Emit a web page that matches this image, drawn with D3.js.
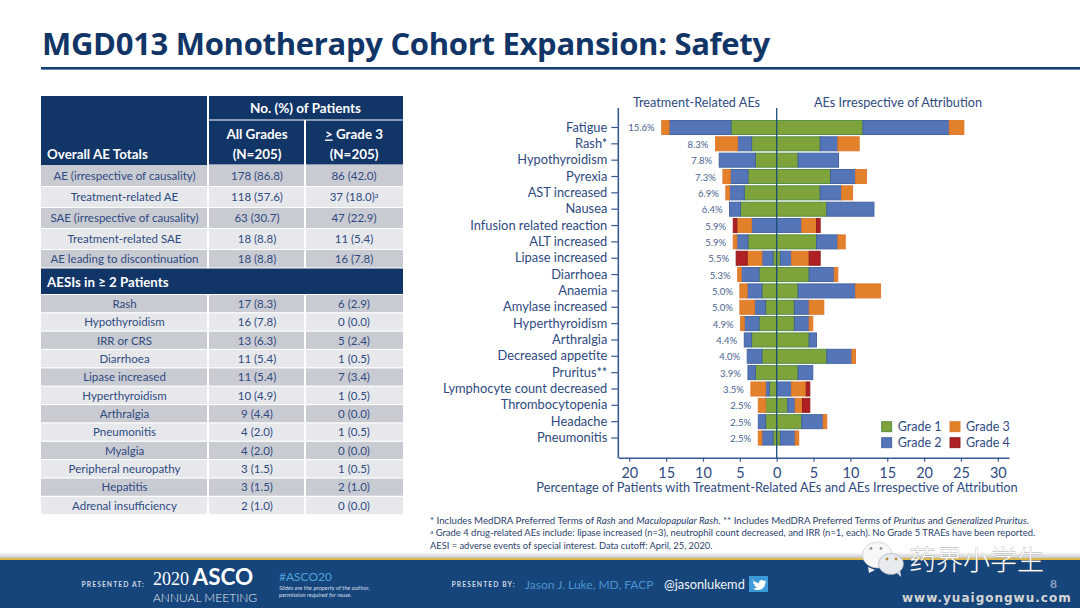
<!DOCTYPE html>
<html>
<head>
<meta charset="utf-8">
<script src="https://cdn.jsdelivr.net/npm/d3@7"></script>
<style>
  html, body { margin: 0; padding: 0; background: #fff; }
  svg { display: block; }
  text { font-family: Lato, sans-serif; }
</style>
</head>
<body>
<div id="slide"></div>
<script>
// Chart data
const categories = ["Fatigue", "Rash*", "Hypothyroidism", "Pyrexia", "AST increased", "Nausea",
  "Infusion related reaction", "ALT increased", "Lipase increased", "Diarrhoea", "Anaemia",
  "Amylase increased", "Hyperthyroidism", "Arthralgia", "Decreased appetite", "Pruritus**",
  "Lymphocyte count decreased", "Thrombocytopenia", "Headache", "Pneumonitis"];
const trPercent = ["15.6%", "8.3%", "7.8%", "7.3%", "6.9%", "6.4%", "5.9%", "5.9%", "5.5%", "5.3%",
  "5.0%", "5.0%", "4.9%", "4.4%", "4.0%", "3.9%", "3.5%", "2.5%", "2.5%", "2.5%"];

// Treatment-related AEs (left side)
const trGrade1 = [6.2, 3.4, 2.9, 3.9, 4.4, 4.9, 0, 3.9, 0.5, 2.4, 2.0, 1.5, 2.4, 3.4, 2.0, 2.9, 1.0, 1.5, 1.5, 0.5];
const trGrade2 = [8.4, 1.9, 4.9, 2.4, 2.0, 1.5, 3.4, 1.5, 1.5, 2.4, 2.0, 1.5, 2.0, 1.0, 2.0, 1.0, 0.5, 0, 1.0, 1.5];
const trGrade3 = [1.0, 3.0, 0, 1.0, 0.5, 0, 2.0, 0.5, 2.0, 0.5, 1.0, 2.0, 0.5, 0, 0, 0, 2.0, 1.0, 0, 0.5];
const trGrade4 = [0, 0, 0, 0, 0, 0, 0.5, 0, 1.5, 0, 0, 0, 0, 0, 0, 0, 0, 0, 0, 0];

// AEs irrespective of attribution (right side)
const allGrade1 = [11.7, 5.9, 2.9, 7.3, 5.9, 6.8, 0, 5.4, 0.5, 4.4, 2.9, 2.4, 2.4, 4.4, 6.8, 2.9, 0, 1.5, 3.4, 0.5];
const allGrade2 = [11.7, 2.4, 5.5, 3.4, 2.9, 6.4, 3.4, 2.9, 1.5, 3.4, 7.8, 2.0, 2.0, 1.0, 3.4, 2.0, 2.0, 1.0, 2.9, 2.0];
const allGrade3 = [2.0, 2.9, 0, 1.5, 1.5, 0, 2.0, 1.0, 2.4, 0.5, 3.4, 2.0, 0.5, 0, 0.5, 0, 2.0, 1.0, 0.5, 0.5];
const allGrade4 = [0, 0, 0, 0, 0, 0, 0.5, 0, 1.5, 0, 0, 0, 0, 0, 0, 0, 0.5, 1.0, 0, 0];

const gradeNames = ["Grade 1", "Grade 2", "Grade 3", "Grade 4"];
const xTicks = [-20, -15, -10, -5, 0, 5, 10, 15, 20, 25, 30];

// Table data
const totalLabels = ["AE (irrespective of causality)", "Treatment-related AE", "SAE (irrespective of causality)",
  "Treatment-related SAE", "AE leading to discontinuation"];
const totalAll = ["178 (86.8)", "118 (57.6)", "63 (30.7)", "18 (8.8)", "18 (8.8)"];
const totalG3 = ["86 (42.0)", "37 (18.0)", "47 (22.9)", "11 (5.4)", "16 (7.8)"];
const aesiLabels = ["Rash", "Hypothyroidism", "IRR or CRS", "Diarrhoea", "Lipase increased", "Hyperthyroidism",
  "Arthralgia", "Pneumonitis", "Myalgia", "Peripheral neuropathy", "Hepatitis", "Adrenal insufficiency"];
const aesiAll = ["17 (8.3)", "16 (7.8)", "13 (6.3)", "11 (5.4)", "11 (5.4)", "10 (4.9)", "9 (4.4)", "4 (2.0)",
  "4 (2.0)", "3 (1.5)", "3 (1.5)", "2 (1.0)"];
const aesiG3 = ["6 (2.9)", "0 (0.0)", "5 (2.4)", "1 (0.5)", "7 (3.4)", "1 (0.5)", "0 (0.0)", "1 (0.5)",
  "0 (0.0)", "1 (0.5)", "2 (1.0)", "0 (0.0)"];

const navy = "#123567";
const textBlue = "#2f4a80";
const fills = ["#7fa33b", "#5476b9", "#e3802a", "#ae2024"];
const strokes = ["#4e8a3e", "#3f5f9e", "#e0762a", "#8f1a1e"];

const svg = d3.select("#slide").append("svg")
  .attr("width", 1080)
  .attr("height", 608)
  .attr("viewBox", "0 0 1080 608");

// Title and rule
svg.append("text")
  .attr("x", 42).attr("y", 55)
  .attr("fill", navy)
  .style("font-family", "'Open Sans'")
  .style("font-weight", 700)
  .style("font-size", "31px")
  .style("letter-spacing", "-0.3px")
  .text("MGD013 Monotherapy Cohort Expansion: Safety");
svg.append("rect").attr("x", 41).attr("y", 67).attr("width", 1039).attr("height", 2.6).attr("fill", "#123f74");

// ---- Table ----
const table = svg.append("g");

function cell(x, y, w, h, fill) {
  table.append("rect").attr("x", x).attr("y", y).attr("width", w).attr("height", h).attr("fill", fill);
}
function cellText(x, y, str, size, color, weight) {
  return table.append("text")
    .attr("x", x).attr("y", y)
    .attr("text-anchor", "middle")
    .attr("fill", color)
    .style("font-size", size + "px")
    .style("font-weight", weight || 400)
    .text(str);
}

cell(41, 96, 166, 69, navy);
cell(209, 96, 194, 23.5, navy);
cell(209, 120.5, 95, 44, navy);
cell(306, 120.5, 97, 44, navy);
cellText(305.5, 113, "No. (%) of Patients", 13.5, "#fff", 700);
cellText(257, 138.5, "All Grades", 13.4, "#fff", 700);
cellText(257, 159, "(N=205)", 13.4, "#fff", 700);
const g3Head = cellText(354, 138.5, "", 13.4, "#fff", 700);
g3Head.append("tspan").style("text-decoration", "underline").text(">");
g3Head.append("tspan").text(" Grade 3");
cellText(354, 159, "(N=205)", 13.4, "#fff", 700);
table.append("text").attr("x", 47).attr("y", 159).attr("fill", "#fff")
  .style("font-size", "13.4px").style("font-weight", 700).text("Overall AE Totals");

const totalTops = [165, 187, 208, 229, 250];
const totalHeights = [21, 20, 20, 20, 17.5];
const rowFills = ["#c9cbd2", "#e6e8ec"];
totalLabels.forEach((label, i) => {
  const top = totalTops[i], h = totalHeights[i], f = rowFills[i % 2];
  cell(41, top, 166, h, f); cell(209, top, 95, h, f); cell(306, top, 97, h, f);
  const ty = top + h / 2 + 4;
  cellText(124.5, ty, label, 11.5, textBlue);
  cellText(257, ty, totalAll[i], 11.5, textBlue);
  const t = cellText(354, ty, totalG3[i], 11.5, textBlue);
  if (i === 1) t.append("tspan").attr("dy", -3).style("font-size", "7px").text("a");
});

cell(41, 268.5, 362, 25.5, navy);
table.append("text").attr("x", 47).attr("y", 286.5).attr("fill", "#fff")
  .style("font-size", "13.3px").style("font-weight", 700).text("AESIs in \u2265 2 Patients");

const aesiRow = d3.scaleBand().domain(aesiLabels).range([295, 515.3]);
aesiLabels.forEach((label, i) => {
  const top = aesiRow(label), h = aesiRow.bandwidth() - 1.2, f = rowFills[i % 2];
  cell(41, top, 166, h, f); cell(209, top, 95, h, f); cell(306, top, 97, h, f);
  const ty = top + h / 2 + 4.3;
  cellText(124.5, ty, label, 11.5, textBlue);
  cellText(257, ty, aesiAll[i], 11.5, textBlue);
  cellText(354, ty, aesiG3[i], 11.5, textBlue);
});

// ---- Butterfly chart ----
const x = d3.scaleLinear().domain([-21.49, 31.52]).range([618.3, 1009]);
const y = d3.scaleBand().domain(categories).range([119.3, 446.2]).paddingInner(0.14).paddingOuter(0.07);

const leftGrades = [trGrade1, trGrade2, trGrade3, trGrade4];
const rightGrades = [allGrade1, allGrade2, allGrade3, allGrade4];

function stackSide(grades, sign, cls) {
  categories.forEach((cat, c) => {
    let running = 0;
    grades.forEach((vals, g) => {
      const v = vals[c];
      if (!v) return;
      const a = sign * running, b = sign * (running + v);
      svg.append("rect")
        .attr("class", cls)
        .attr("x", Math.min(x(a), x(b)))
        .attr("y", y(cat))
        .attr("width", Math.abs(x(b) - x(a)))
        .attr("height", y.bandwidth())
        .attr("fill", fills[g])
        .attr("stroke", strokes[g])
        .attr("stroke-width", 0.9);
      running += v;
    });
  });
}
stackSide(leftGrades, -1, "tr");
stackSide(rightGrades, 1, "all");

// Percent labels sit just left of the left stack
svg.selectAll(".pct").data(categories).enter().append("text")
  .attr("class", "pct")
  .attr("x", (d, i) => x(-leftGrades.reduce((s, v) => s + v[i], 0)) - 7)
  .attr("y", d => y(d) + y.bandwidth() / 2 + 4)
  .attr("text-anchor", "end")
  .attr("fill", "#4a6290")
  .style("font-size", "9.5px")
  .text((d, i) => trPercent[i]);

// Axes
const xAxis = d3.axisBottom(x).tickValues(xTicks).tickFormat(d => Math.abs(d)).tickSize(4).tickSizeOuter(0);
const xG = svg.append("g").attr("transform", "translate(0,457.7)").call(xAxis);
xG.selectAll("text").attr("fill", textBlue).attr("dy", "0.9em").style("font-size", "14.5px");
xG.selectAll("line").attr("stroke", "#3a5a96").attr("stroke-width", 1.2);
xG.select(".domain").attr("stroke", "#3a5a96").attr("stroke-width", 1.6);

const yAxis = d3.axisLeft(y).tickSize(7).tickSizeOuter(0);
const yG = svg.append("g").attr("transform", "translate(618.3,0)").call(yAxis);
yG.select(".domain").remove();
yG.selectAll("line").attr("stroke", "#3a5a96").attr("stroke-width", 1.2);
yG.selectAll("text").attr("x", -11).attr("fill", textBlue).style("font-size", "12.85px");
svg.append("line").attr("x1", 618.3).attr("x2", 618.3).attr("y1", 108).attr("y2", 458)
  .attr("stroke", "#3a5a96").attr("stroke-width", 1.6);

// Zero line
svg.append("line").attr("x1", x(0)).attr("x2", x(0)).attr("y1", 108).attr("y2", 458)
  .attr("stroke", "#1f4e79").attr("stroke-width", 1.3);

// Side headers and axis title
svg.append("text").attr("x", 696.5).attr("y", 106.5).attr("text-anchor", "middle").attr("fill", textBlue)
  .style("font-size", "12.7px").text("Treatment-Related AEs");
svg.append("text").attr("x", 898).attr("y", 106.5).attr("text-anchor", "middle").attr("fill", textBlue)
  .style("font-size", "12.7px").text("AEs Irrespective of Attribution");
svg.append("text").attr("x", 777).attr("y", 492).attr("text-anchor", "middle").attr("fill", textBlue)
  .style("font-size", "12.8px").text("Percentage of Patients with Treatment-Related AEs and AEs Irrespective of Attribution");

// Legend
const legendX = [881.7, 950, 881.7, 950];
const legendOrder = [0, 2, 1, 3];
const legendY = [421.7, 421.7, 437.7, 437.7];
legendOrder.forEach((g, i) => {
  svg.append("rect").attr("x", legendX[i]).attr("y", legendY[i]).attr("width", 10).attr("height", 10)
    .attr("fill", fills[g]).attr("stroke", strokes[g]).attr("stroke-width", 0.9);
  svg.append("text").attr("x", legendX[i] + 16).attr("y", legendY[i] + 9.5).attr("fill", textBlue)
    .style("font-size", "12.5px").text(gradeNames[g]);
});

// Footnotes
const note = svg.append("g").attr("fill", "#2b3f6b");
const n1 = note.append("text").attr("x", 430).attr("y", 524).style("font-size", "9.68px");
[["* Includes MedDRA Preferred Terms of ", 0], ["Rash", 1], [" and ", 0], ["Maculopapular  Rash", 1],
 [". ** Includes MedDRA Preferred Terms of ", 0], ["Pruritus", 1], [" and ", 0], ["Generalized Pruritus", 1], [".", 0]]
  .forEach(p => n1.append("tspan").style("font-style", p[1] ? "italic" : "normal").text(p[0]));
const n2 = note.append("text").attr("x", 430).attr("y", 536).style("font-size", "9.45px");
n2.append("tspan").attr("dy", -2).style("font-size", "6.5px").text("a");
n2.append("tspan").attr("dy", 2).text(" Grade 4 drug-related AEs include:  lipase increased (n=3), neutrophil  count decreased, and IRR (n=1, each). No Grade 5 TRAEs have been reported.");
note.append("text").attr("x", 430).attr("y", 549).style("font-size", "9.3px")
  .text("AESI = adverse events of special interest.  Data cutoff: April, 25, 2020.");

// ---- Footer band ----
const defs = svg.append("defs");
const shade = defs.append("linearGradient").attr("id", "shade").attr("x1", 0).attr("x2", 0).attr("y1", 0).attr("y2", 1);
shade.append("stop").attr("offset", 0).attr("stop-color", "#fff");
shade.append("stop").attr("offset", 1).attr("stop-color", "#c9c9c9");
svg.append("rect").attr("x", 0).attr("y", 552).attr("width", 1080).attr("height", 6).attr("fill", "url(#shade)");
svg.append("rect").attr("x", 0).attr("y", 558).attr("width", 1080).attr("height", 2).attr("fill", "#dcb84a");
svg.append("rect").attr("x", 0).attr("y", 560).attr("width", 1080).attr("height", 48).attr("fill", "#16457b");

const foot = svg.append("g");
function footText(px, py, str, size, color, extra) {
  const t = foot.append("text").attr("x", px).attr("y", py).attr("fill", color)
    .style("font-size", size + "px").text(str);
  if (extra) Object.keys(extra).forEach(k => t.style(k, extra[k]));
  return t;
}
footText(81.5, 587, "PRESENTED AT:", 6.8, "#cfd8e6", { "letter-spacing": "1.05px", "font-weight": 700 });
footText(153, 585, "2020", 18, "#fff", { "font-family": "'Liberation Serif'" });
footText(192.5, 585, "ASCO", 22.5, "#fff", { "font-weight": 700 });
footText(153, 601.5, "ANNUAL MEETING", 12, "#e4e9f1", { "font-weight": 300 });
footText(279, 581, "#ASCO20", 12, "#4da3dd");
footText(279, 590, "Slides are the property of the author,", 6, "#d5dde9", { "font-style": "italic" });
footText(279, 597, "permission required for reuse.", 6, "#d5dde9", { "font-style": "italic" });
footText(451.5, 587, "PRESENTED BY:", 6.8, "#cfd8e6", { "letter-spacing": "1.05px", "font-weight": 700 });
footText(525, 589, "Jason J. Luke, MD, FACP", 12, "#4b93cf");
footText(664, 589, "@jasonlukemd", 12.8, "#f0f3f7");
svg.append("rect").attr("x", 749).attr("y", 576).attr("width", 19).attr("height", 16).attr("fill", "#3c9ad9");
// small twitter bird
svg.append("path")
  .attr("d", "M752 580c3 2 5 3 7 3 0-3 3-4 5-2l2-1-1 2 1.500 0-1.500 1.500c0 4-3 6.500-7 6.500-2 0-3.500-.5-5-1.500 1.500 0 3-.5 4-1.500-1.500 0-2.500-1-3-2h1.500c-1.500-.5-2.500-1.500-2.500-3l1.500.5c-1.500-1-2-2-1.500-3z")
  .attr("fill", "#fff");
footText(1050, 587.5, "8", 12, "#8ea3bf", { "font-weight": 700 });

// ---- Watermark ----
const wm = svg.append("g");
wm.append("path").attr("d", "M868 567l1 6 6-3z").attr("fill", "#f2f2f2");
wm.append("ellipse").attr("cx", 877.5).attr("cy", 555).attr("rx", 15).attr("ry", 13).attr("fill", "#f7f7f7").attr("stroke", "#c4c4c4").attr("stroke-width", 0.6);
wm.append("path").attr("d", "M896 572l5 5-1-8z").attr("fill", "#e8ebf0");
wm.append("ellipse").attr("cx", 891).attr("cy", 564).attr("rx", 12.5).attr("ry", 10.5).attr("fill", "#e8ebf0").attr("stroke", "#9aa3ad").attr("stroke-width", 0.6);
[[871, 548.5], [881, 548.5]].forEach(p => {
  wm.append("circle").attr("cx", p[0]).attr("cy", p[1]).attr("r", 1.4).attr("fill", "#9a9a9a");
});
[[887, 559], [896, 559]].forEach(p => {
  wm.append("circle").attr("cx", p[0]).attr("cy", p[1]).attr("r", 1.4).attr("fill", "#b08f3a");
});
wm.append("text").attr("x", 909).attr("y", 570)
  .attr("fill", "#fff").attr("stroke", "#7a7a7a").attr("stroke-width", 0.4).attr("paint-order", "stroke")
  .style("font-family", "'Noto Sans CJK SC'").style("font-weight", 300).style("font-size", "27px")
  .text("药界小学生");
wm.append("text").attr("x", 902).attr("y", 602)
  .attr("fill", "#d5d5d5")
  .style("font-family", "'DejaVu Sans'").style("font-weight", 700).style("font-size", "12px")
  .style("letter-spacing", "1px")
  .text("www.yuaigongwu.com");
</script>
</body>
</html>
